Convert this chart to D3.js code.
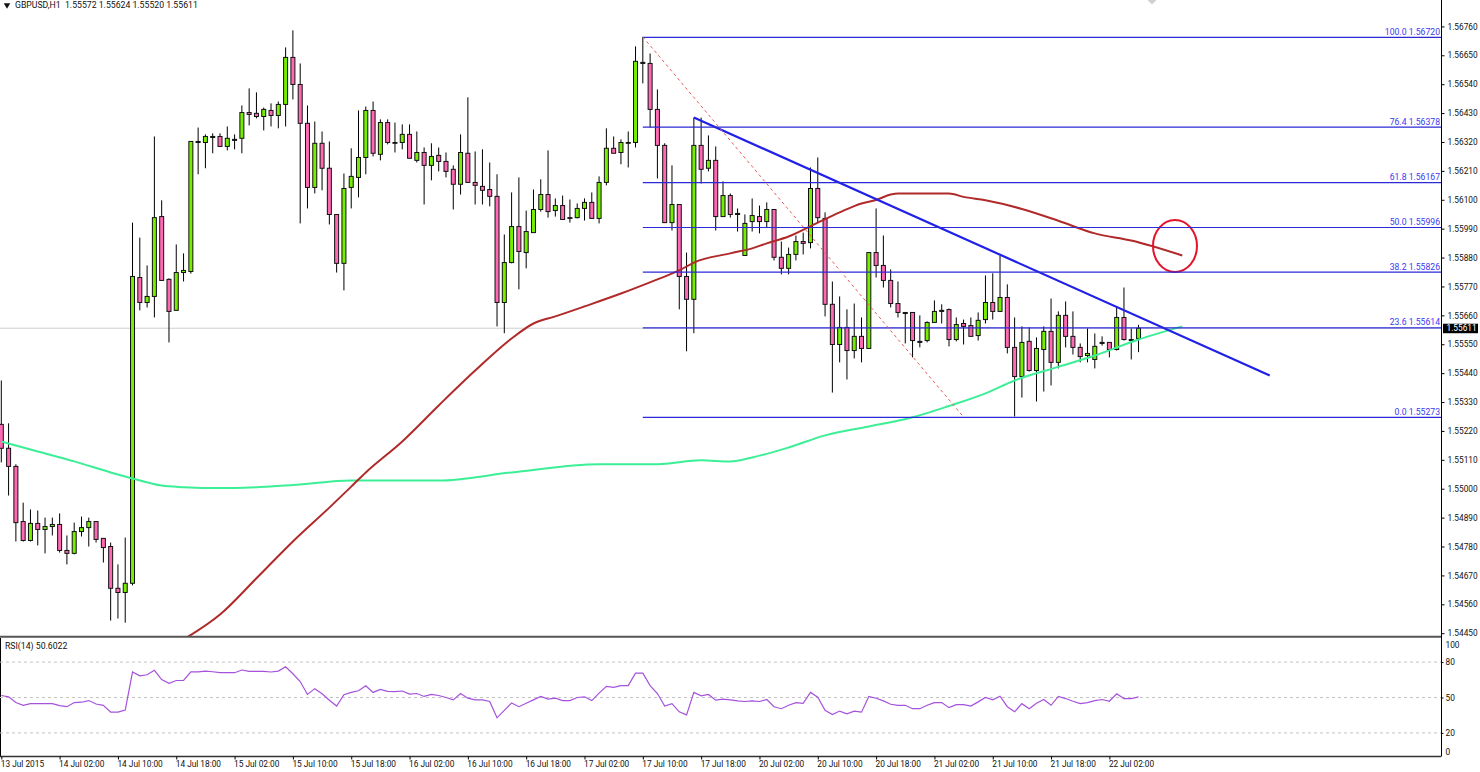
<!DOCTYPE html>
<html><head><meta charset="utf-8">
<script src="https://cdn.jsdelivr.net/npm/d3@7/dist/d3.min.js"></script>
<style>
html,body{margin:0;padding:0;background:#fff;overflow:hidden}
svg{display:block}
text{font-family:Roboto,"Liberation Sans",sans-serif;font-size:8.3px;fill:#111}
</style></head><body>
<svg id="c" width="1480" height="772"></svg>
<script>
// Prices are stored in points (1.55611 = 155611)
const symbolLine = "GBPUSD,H1  1.55572 1.55624 1.55520 1.55611";
const rsiLabel = "RSI(14) 50.6022";
const lastPrice = 155611;
const high = [
155412,155249,155093,154947,154921,154917,154890,154890,154906,154822,
154871,154894,154890,154875,154811,154795,154712,154814,156013,155956,
155850,156341,156098,155801,155930,155896,156322,156375,156349,156353,
156353,156379,156349,156459,156524,156509,156451,156467,156474,156680,
156745,156619,156459,156398,156360,156322,156044,156200,156296,156440,
156455,156474,156406,156406,156394,156387,156387,156360,156299,156315,
156299,156280,156231,156349,156490,156284,156292,156242,156197,155968,
156128,156185,156059,156139,156178,156288,156105,156116,156101,156086,
156105,156128,156189,156372,156341,156330,156360,156684,156720,156657,
156520,156315,156231,156082,155899,156413,156413,156345,156303,156170,
156124,156067,156044,156105,156078,156090,156063,155941,155918,155964,
155975,156223,156261,156052,155789,155732,155683,155705,155652,155899,
156067,155964,155835,155789,155671,155671,155660,155637,155717,155702,
155686,155652,155644,155652,155671,155812,155820,155888,155778,155652,
155618,155614,155576,155618,155724,155675,155713,155675,155553,155610,
155591,155580,155557,155694,155766,155610,155624];
const bodyHigh = [
155245,155154,155085,154875,154868,154868,154856,154864,154864,154765,
154837,154852,154875,154875,154811,154780,154621,154640,155808,155804,
155732,156032,156036,155797,155823,155831,156322,156322,156341,156341,
156341,156334,156330,156432,156432,156429,156444,156440,156463,156642,
156642,156539,156391,156315,156315,156220,156044,156143,156189,156261,
156440,156440,156394,156394,156318,156349,156349,156280,156280,156265,
156269,156246,156216,156280,156277,156166,156151,156139,156113,155861,
155998,155998,155979,156063,156120,156120,156078,156078,156032,156067,
156090,156090,156166,156296,156296,156318,156318,156627,156623,156619,
156444,156307,156082,156082,155808,156307,156307,156250,156250,156116,
156116,156048,156010,156040,156036,156063,156063,155881,155892,155941,
155941,156143,156143,156029,155702,155614,155614,155580,155580,155899,
155899,155850,155793,155705,155671,155671,155561,155633,155675,155679,
155682,155625,155629,155621,155641,155709,155709,155728,155728,155538,
155557,155561,155534,155599,155599,155660,155660,155580,155538,155515,
155542,155557,155557,155652,155652,155568,155611];
const bodyLow = [
155154,155085,154871,154803,154803,154845,154845,154856,154765,154754,
154754,154837,154852,154807,154776,154621,154605,154605,154640,155709,
155709,155732,155793,155675,155679,155823,155827,156318,156318,156337,
156303,156303,156326,156334,156425,156417,156417,156421,156421,156463,
156539,156391,156147,156147,156220,156044,155858,155858,156147,156185,
156261,156277,156273,156318,156315,156318,156258,156250,156231,156231,
156246,156208,156159,156159,156166,156155,156136,156113,155709,155709,
155861,155903,155899,155975,156063,156055,156059,156025,156029,156032,
156067,156029,156029,156166,156277,156280,156315,156318,156619,156444,
156307,156013,156013,155808,155721,155721,156216,156220,156036,156036,
156044,156044,155888,156017,156017,156017,155881,155839,155839,155892,
155934,155937,156032,155702,155549,155549,155526,155526,155534,155534,
155850,155793,155705,155671,155667,155564,155557,155564,155633,155675,
155568,155568,155618,155580,155583,155644,155675,155675,155538,155427,
155427,155450,155450,155530,155481,155481,155580,155538,155503,155507,
155492,155553,155530,155530,155568,155564,155572];
const low = [
155100,154974,154799,154799,154799,154784,154754,154822,154757,154712,
154750,154818,154780,154795,154719,154498,154506,154490,154632,155679,
155690,155652,155793,155557,155679,155789,155819,156197,156220,156277,
156303,156288,156292,156277,156383,156410,156364,156379,156372,156379,
156482,156010,156067,156124,156136,156006,155823,155755,156067,156109,
156197,156265,156250,156311,156280,156292,156258,156242,156082,156174,
156208,156185,156063,156120,156166,156082,156082,156075,155618,155592,
155858,155759,155839,155975,156055,156032,156036,156025,156013,156029,
156021,156029,156010,156155,156277,156235,156223,156299,156543,156375,
156181,156013,155983,155683,155523,155592,156162,156208,155983,156036,
156032,155979,155888,155979,155972,155994,155869,155816,155816,155869,
155892,155915,156013,155656,155366,155481,155416,155496,155481,155534,
155804,155766,155690,155652,155553,155500,155538,155557,155633,155629,
155542,155561,155549,155580,155564,155629,155644,155675,155515,155275,
155347,155446,155332,155370,155393,155458,155538,155511,155481,155481,
155458,155545,155500,155526,155564,155492,155520];
const direction = "PPPPGPGGPP"+"GGGPPPPGGP"+"GGPPGGGGGG"+"PGPGPPGPGG"+"PPPGPPPGGG"+"GPGPPGPGPG"+"PPPGPPPPPG"+"GPGGGPGPPG"+"GPGGPGGGGP"+"PPGPPGPGPG"+"PPGGPGPPGG"+"PGPPPGPGPG"+"PPPPPPPGGG"+"PGPPGGPGPP"+"GPGGPGPPPG"+"GGPGPGG";

const redIndex = [25,30,35,40,45,48,50,55,60,65,70,73,76,80,85,90,93,95,100,103,105,108,112,115,118,120,122,123,130,132,135,140,145,150,155,162];
const redValue = [154426,154521,154659,154799,154928,155008,155062,155180,155317,155450,155572,155629,155656,155694,155743,155797,155831,155861,155896,155915,155934,155960,156013,156052,156086,156099,156120,156124,156124,156111,156098,156065,156020,155972,155945,155888];
const greenIndex = [0,5,10,15,18,22,25,28,32,40,48,60,70,82,90,96,100,103,108,113,119,125,130,135,139,145,150,156,162];
const greenValue = [155180,155142,155104,155062,155039,155012,155006,155003,155003,155014,155031,155031,155062,155093,155093,155108,155104,155119,155157,155203,155237,155272,155315,155363,155412,155464,155507,155568,155618];

const fibLevel = [100,76.4,61.8,50,38.2,23.6,0];
const fibPrice = [156720,156378,156167,155996,155826,155614,155273];
const fibStartIndex = 88, fibDiagonalEndIndex = 132;
const trendIndex = [95,174];
const trendPrice = [156413,155431];
const circleIndex = 161, circlePrice = 155924;

const priceTicks = [156760,156650,156540,156430,156320,156210,156100,155990,155880,155770,155660,155550,155440,155330,155220,155110,155000,154890,154780,154670,154560,154450];
const rsiTicks = [100,80,50,20,0];
const rsiLevels = [80,50,20];
const timeLabels = ["13 Jul 2015","14 Jul 02:00","14 Jul 10:00","14 Jul 18:00","15 Jul 02:00","15 Jul 10:00","15 Jul 18:00","16 Jul 02:00","16 Jul 10:00","16 Jul 18:00","17 Jul 02:00","17 Jul 10:00","17 Jul 18:00","20 Jul 02:00","20 Jul 10:00","20 Jul 18:00","21 Jul 02:00","21 Jul 10:00","21 Jul 18:00","22 Jul 02:00"];
const barsPerLabel = 8;
const rsiValue = [
51.7,50.6,45.7,43.4,44.8,44.8,44.8,44.8,43.1,42.2,
45.7,46,47.4,44.5,43.4,37.6,37.6,39.4,71.6,68.4,
69.3,73,65.2,62,64.4,64.4,71.8,71.8,72.4,71.8,
71,71,71,73.3,72.1,72.1,72.1,71.6,72.4,76.1,
70.1,63.5,52.6,57.5,53.2,47.7,42.8,52.3,54.3,55.7,
60,54.3,56.9,55.2,54.9,55.5,52.9,53.4,50.9,52.6,
51.7,50,48,53.4,49.4,48,48,46.6,32.8,39.1,
45.4,42.2,45.1,48,50.9,48.6,49.4,47.4,47.4,50,
50.6,47.4,53.7,59.5,58.6,60.1,60.1,70.7,70.7,60.1,
53.4,42.8,44.8,37.9,35.3,54.3,51.4,52.6,47.7,48.6,
48,47.1,46.6,47.1,46.6,48.3,42.2,40.5,43.4,45.7,
45.1,54.3,50.3,39.1,35.6,38.5,36.2,38.5,37.6,50.9,
49.4,47.1,44.3,43.4,43.4,40.5,40.5,43.4,45.7,45.7,
41.4,44,44,42.8,46.3,50,48,51.1,42.2,37.9,
44.8,40.5,45.1,48.3,43.4,50.9,49.1,46.8,44.8,45.7,
47.4,48.3,46.8,53.2,49.1,49.1,50.6];

const W=1480, plotRight=1441, priceBottom=636.5, rsiTop=638, rsiBottom=756.5;
const svg=d3.select("#c");
const x=d3.scaleLinear().domain([0,100]).range([1.3,730.3]);
const y=d3.scaleLinear().domain([156760,154450]).range([26.4,633.2]);
const yr=d3.scaleLinear().domain([0,100]).range([756.5,638.5]);

svg.append("defs").append("clipPath").attr("id","pc").append("rect").attr("x",0).attr("y",0).attr("width",plotRight).attr("height",priceBottom);
const plot=svg.append("g").attr("clip-path","url(#pc)");

// last price line
plot.append("line").attr("x1",0).attr("x2",plotRight).attr("y1",y(lastPrice)).attr("y2",y(lastPrice)).attr("stroke","#cfcfcf").attr("stroke-width",1);

// candles
const idx=d3.range(high.length);
plot.append("g").selectAll("line").data(idx).join("line")
  .attr("x1",i=>x(i)).attr("x2",i=>x(i)).attr("y1",i=>y(high[i])).attr("y2",i=>y(low[i]))
  .attr("stroke","#000").attr("stroke-width",1);
plot.append("g").selectAll("rect").data(idx).join("rect")
  .attr("x",i=>x(i)-2).attr("width",4)
  .attr("y",i=>y(bodyHigh[i])).attr("height",i=>y(bodyLow[i])-y(bodyHigh[i]))
  .attr("fill",i=>direction[i]==="G"?"#76ee00":"#ff69b4")
  .attr("stroke","#111").attr("stroke-width",1);

// moving averages
const line=d3.line().x(d=>x(d[0])).y(d=>y(d[1])).curve(d3.curveMonotoneX);
plot.append("path").attr("d",line(d3.zip(greenIndex,greenValue))).attr("fill","none").attr("stroke","#3cef96").attr("stroke-width",2);
plot.append("path").attr("d",line(d3.zip(redIndex,redValue))).attr("fill","none").attr("stroke","#b02a2a").attr("stroke-width",2);

// fibonacci
const fibG=svg.append("g");
fibG.selectAll("line").data(fibPrice).join("line")
  .attr("x1",x(fibStartIndex)).attr("x2",plotRight).attr("y1",d=>y(d)+.4).attr("y2",d=>y(d)+.4)
  .attr("stroke","#2a2ad6").attr("stroke-width",1.2);
fibG.append("line").attr("x1",x(fibStartIndex)).attr("y1",y(fibPrice[0])).attr("x2",x(fibDiagonalEndIndex)).attr("y2",y(fibPrice[6]))
  .attr("stroke","#e85a5a").attr("stroke-width",1).attr("stroke-dasharray","3,3");
fibG.selectAll("text").data(fibPrice).join("text")
  .attr("x",plotRight-1).attr("y",d=>y(d)-2).attr("text-anchor","end").style("fill","#3a3af0").style("font-size","8.65px")
  .text((d,i)=>fibLevel[i].toFixed(1)+" "+(d/1e5).toFixed(5));

// trend line & circle
plot.append("line").attr("x1",x(trendIndex[0])).attr("y1",y(trendPrice[0])).attr("x2",x(trendIndex[1])).attr("y2",y(trendPrice[1]))
  .attr("stroke","#2020e8").attr("stroke-width",2.2);
plot.append("ellipse").attr("cx",x(circleIndex)).attr("cy",y(circlePrice)).attr("rx",22).attr("ry",26)
  .attr("fill","none").attr("stroke","#e3132b").attr("stroke-width",2);

// price axis
const pa=svg.append("g").attr("transform",`translate(${plotRight+.5},0)`)
  .call(d3.axisRight(y).tickValues(priceTicks).tickSize(3).tickPadding(3).tickFormat(d=>(d/1e5).toFixed(5)));
pa.select(".domain").attr("d",`M0,0V${rsiBottom}`).attr("stroke","#000");

// last price tag
svg.append("rect").attr("x",1443).attr("y",y(lastPrice)-4.5).attr("width",35).attr("height",9.5).attr("fill","#000");
svg.append("text").attr("x",1446.5).attr("y",y(lastPrice)+3.2).style("fill","#fff").text((lastPrice/1e5).toFixed(5));

// panels
svg.append("line").attr("x1",0).attr("x2",plotRight).attr("y1",636.8).attr("y2",636.8).attr("stroke","#555").attr("stroke-width",2);
svg.append("line").attr("x1",.5).attr("x2",.5).attr("y1",rsiTop).attr("y2",rsiBottom).attr("stroke","#000");

// rsi
svg.append("g").selectAll("line").data(rsiLevels).join("line")
  .attr("x1",0).attr("x2",plotRight).attr("y1",d=>yr(d)).attr("y2",d=>yr(d))
  .attr("stroke","#c4c4c4").attr("stroke-dasharray","3,3");
svg.append("path").attr("d",d3.line().x((d,i)=>x(i)).y(d=>yr(d))(rsiValue)).attr("fill","none").attr("stroke","#a552dc").attr("stroke-width",1.2);
const ra=svg.append("g").attr("transform",`translate(${plotRight+.5},0)`)
  .call(d3.axisRight(yr).tickValues(rsiTicks).tickSize(2).tickPadding(2));
ra.select(".domain").remove();
ra.selectAll(".tick").filter(d=>d===100||d===0).select("text").attr("dy",function(d){return d===100?"1.05em":"-0.25em";});
ra.selectAll(".tick").filter(d=>d===100||d===0).select("line").remove();

// time axis
const ta=svg.append("g").attr("transform",`translate(0,${rsiBottom})`)
  .call(d3.axisBottom(x).tickValues(timeLabels.map((_,i)=>i*barsPerLabel)).tickSize(3).tickPadding(2).tickFormat((d,i)=>timeLabels[i]));
ta.select(".domain").attr("d",`M0,0H${plotRight}`).attr("stroke","#333").attr("stroke-width",1.5);
ta.selectAll("text").attr("text-anchor","start").attr("dx","-1");

svg.selectAll(".tick text").style("font-family",'Roboto,"Liberation Sans",sans-serif').style("font-size","8.3px").style("fill","#111");

// headers
svg.append("path").attr("d",d3.symbol(d3.symbolTriangle,18)()).attr("transform","translate(7,5) rotate(180)").attr("fill","#111");
svg.append("text").attr("x",15).attr("y",8).attr("xml:space","preserve").style("white-space","pre").style("font-size","8.7px").text(symbolLine);
svg.append("text").attr("x",5).attr("y",649).style("font-size","8.7px").text(rsiLabel);
svg.append("path").attr("d",d3.symbol(d3.symbolSquare,60)()).attr("transform","translate(1152,-1) rotate(45)").attr("fill","#cfcfcf");
</script>
</body></html>
